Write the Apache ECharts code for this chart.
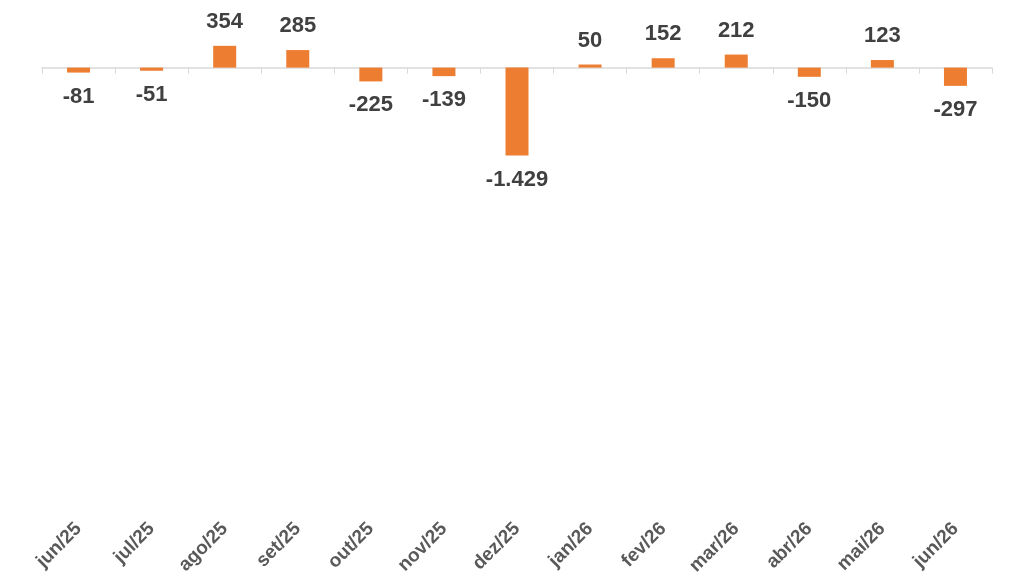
<!DOCTYPE html>
<html><head><meta charset="utf-8">
<script src="https://cdn.jsdelivr.net/npm/echarts@6/dist/echarts.min.js"></script>
<style>html,body{margin:0;padding:0;background:#fff}#c{width:1024px;height:578px}</style>
</head><body><div id="c"></div>
<script>
var categories = ['jun/25','jul/25','ago/25','set/25','out/25','nov/25','dez/25','jan/26','fev/26','mar/26','abr/26','mai/26','jun/26'];
var values = [-81, -51, 354, 285, -225, -139, -1429, 50, 152, 212, -150, 123, -297];

function fmt(v){
  var s = Math.abs(v).toString().replace(/\B(?=(\d{3})+(?!\d))/g, '.');
  return (v < 0 ? '-' : '') + s;
}

var chart = echarts.init(document.getElementById('c'));
chart.setOption({
  animation: false,
  grid: { left: 42, right: 32, top: 43, bottom: 122 },
  xAxis: {
    type: 'category', data: categories,
    axisLine: { onZero: true, lineStyle: { color: '#d9d9d9', width: 1.5 } },
    axisTick: { show: true, length: 6, lineStyle: { color: '#d9d9d9' } },
    axisLabel: { rotate: 45, margin: 366, fontSize: 19, fontWeight: 'bold', color: '#595959', fontFamily: 'Liberation Sans' }
  },
  yAxis: { type: 'value', min: -1500, max: 400, show: false, splitLine: { show: false } },
  series: [{
    type: 'bar', barWidth: 23, itemStyle: { color: '#ED7D31' },
    data: values.map(function(v){
      return { value: v, label: { position: v < 0 ? 'bottom' : 'top' } };
    }),
    label: {
      show: true, distance: 13,
      fontSize: 22, fontWeight: 'bold', color: '#404040', fontFamily: 'Liberation Sans',
      formatter: function(p){ return fmt(p.value); }
    }
  }]
});
</script></body></html>
